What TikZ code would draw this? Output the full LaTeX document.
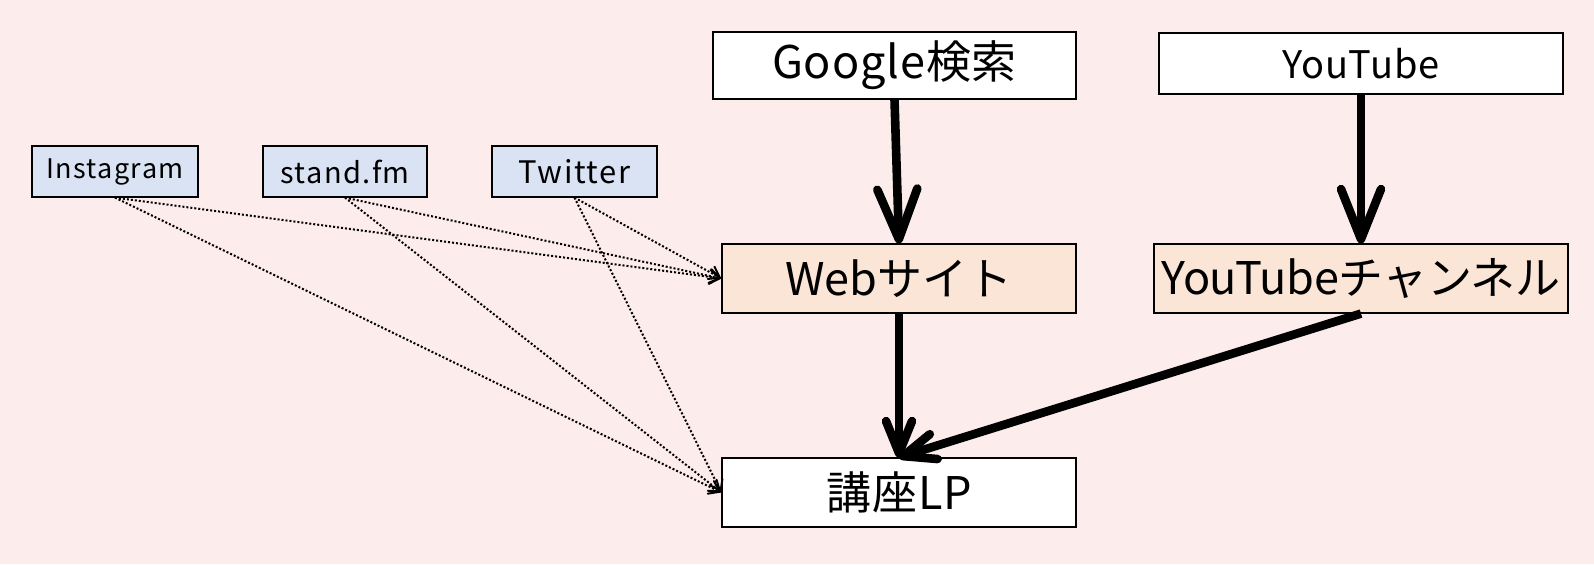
\documentclass[tikz,border=0pt]{standalone}
\usepackage{fontspec}
\setmainfont{Noto Sans CJK JP}
\usetikzlibrary{arrows.meta}
\definecolor{bgpink}{RGB}{253,236,236}
\definecolor{snsblue}{RGB}{218,227,243}
\definecolor{peach}{RGB}{251,229,214}
\begin{document}
\begin{tikzpicture}[x=0.5pt,y=-0.5pt,
  box/.style={draw=black, line width=0.6pt, inner sep=0pt, anchor=center, text=black},
  bigbox/.style={box, minimum height=34.5pt, font=\fontsize{22.5}{27}\selectfont},
  snsbox/.style={box, fill=snsblue, minimum height=25.5pt, minimum width=82.5pt},
  bigarrow/.style={line width=4.3pt, -{Straight Barb[length=25pt,width=20pt,line cap=round,line join=round]}},
  midarrow/.style={line width=4.3pt, -{Straight Barb[length=16pt,width=13pt,line cap=round,line join=round]}},
  dotarrow/.style={line width=1pt, dash pattern=on 1pt off 1pt, -{Straight Barb[length=5pt,width=7pt,line cap=round]}}
]
\fill[bgpink] (0,0) rectangle (1594,564);
\useasboundingbox (0,0) rectangle (1594,564);

\node[bigbox, fill=white, minimum width=181.5pt, minimum height=33.5pt] (google) at (894.5,65.5) {\addfontfeatures{LetterSpace=2}Google検索};
\node[box, fill=white, minimum width=202pt, minimum height=30.5pt, font=\fontsize{19}{23}\selectfont] (yt) at (1361,63.5) {\addfontfeatures{LetterSpace=2}YouTube};
\node[bigbox, fill=peach, minimum width=177pt] (web) at (899,278.5) {Webサイト};
\node[bigbox, fill=peach, minimum width=207pt] (ytch) at (1361,278.5) {\addfontfeatures{LetterSpace=-1}YouTubeチャンネル};
\node[bigbox, fill=white, minimum width=177pt] (lp) at (899,492.5) {\addfontfeatures{LetterSpace=2}講座LP};

\node[snsbox, minimum width=83pt, font=\fontsize{13.5}{16}\selectfont] (insta) at (115,171.5) {\addfontfeatures{LetterSpace=5}Instagram};
\node[snsbox, minimum width=82pt, font=\fontsize{14.5}{17}\selectfont] (stand) at (345,171.5) {\addfontfeatures{LetterSpace=5}stand.fm};
\node[snsbox, font=\fontsize{15.5}{18}\selectfont] (tw) at (574.5,171.5) {\addfontfeatures{LetterSpace=5}Twitter};

\draw[bigarrow] (google.south) -- (web.north);
\draw[bigarrow] (yt.south) -- (ytch.north);
\draw[midarrow] (web.south) -- (lp.north);
\draw[midarrow] (ytch.south) -- (lp.north);

\foreach \s in {insta,stand,tw}{
  \draw[dotarrow] (\s.south) -- (web.west);
  \draw[dotarrow] (\s.south) -- (lp.west);
}
\end{tikzpicture}
\end{document}
